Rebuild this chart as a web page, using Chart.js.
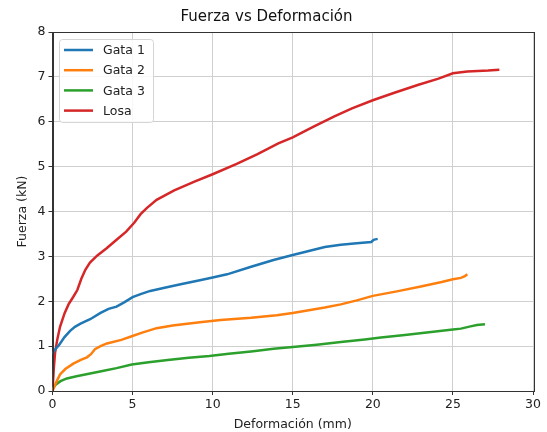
<!DOCTYPE html>
<html>
<head>
<meta charset="utf-8">
<script src="https://cdn.jsdelivr.net/npm/chart.js@4"></script>
<style>
  html, body { margin: 0; padding: 0; background: #fff; }
  #wrap { width: 547px; height: 432px; }
</style>
</head>
<body>
<div id="wrap"><canvas id="chart" width="547" height="432"></canvas></div>
<script>
// values
const gata1X = [0, 0.1, 0.25, 0.4, 0.75, 1.1, 1.4, 1.75, 2.35, 3.0, 3.5, 4.0, 4.5, 5.0, 5.5, 6.1, 7.0, 8.0, 9.2, 10.0, 10.9, 12.4, 13.8, 15.0, 16.0, 17.0, 18.0, 19.0, 19.9, 20.05, 20.3];
const gata1Y = [0.82, 0.9, 0.96, 1.02, 1.2, 1.34, 1.43, 1.5, 1.6, 1.74, 1.83, 1.88, 1.98, 2.09, 2.16, 2.23, 2.3, 2.38, 2.47, 2.53, 2.6, 2.77, 2.92, 3.03, 3.12, 3.21, 3.26, 3.29, 3.32, 3.37, 3.39];

const gata2X = [0, 0.2, 0.47, 0.8, 1.3, 1.8, 2.15, 2.4, 2.65, 3.0, 3.4, 4.3, 4.95, 5.6, 6.5, 7.5, 9.2, 10.5, 12.4, 14.0, 15.0, 16.0, 17.0, 18.0, 19.0, 20.0, 21.5, 23.0, 24.3, 25.0, 25.5, 25.75, 25.9];
const gata2Y = [0, 0.17, 0.37, 0.49, 0.61, 0.7, 0.75, 0.82, 0.93, 1.0, 1.06, 1.14, 1.22, 1.3, 1.4, 1.46, 1.53, 1.58, 1.63, 1.69, 1.74, 1.8, 1.86, 1.93, 2.02, 2.12, 2.22, 2.33, 2.43, 2.49, 2.52, 2.56, 2.6];

const gata3X = [0, 0.2, 0.5, 0.9, 1.5, 2.35, 3.2, 4.0, 4.95, 6.0, 7.2, 8.5, 9.8, 11.0, 12.4, 13.8, 15.0, 16.5, 18.0, 19.5, 20.5, 22.0, 23.5, 25.0, 25.5, 26.1, 26.5, 27.0];
const gata3Y = [0.05, 0.14, 0.22, 0.28, 0.33, 0.39, 0.45, 0.51, 0.59, 0.64, 0.69, 0.74, 0.78, 0.83, 0.88, 0.94, 0.98, 1.03, 1.09, 1.15, 1.19, 1.25, 1.31, 1.37, 1.39, 1.44, 1.47, 1.49];

const losaX = [0, 0.08, 0.16, 0.3, 0.47, 0.75, 1.0, 1.3, 1.55, 1.8, 2.05, 2.34, 2.8, 3.38, 4.0, 4.6, 5.1, 5.5, 5.9, 6.5, 7.6, 8.9, 10.0, 11.5, 12.8, 14.1, 15.0, 16.3, 17.6, 18.7, 20.0, 21.3, 22.8, 24.1, 25.0, 25.9, 27.2, 27.9];
const losaY = [0, 0.5, 0.85, 1.15, 1.43, 1.73, 1.93, 2.1, 2.25, 2.5, 2.7, 2.86, 3.02, 3.18, 3.37, 3.55, 3.75, 3.94, 4.08, 4.26, 4.47, 4.67, 4.83, 5.06, 5.28, 5.52, 5.65, 5.89, 6.12, 6.3, 6.48, 6.64, 6.82, 6.96, 7.08, 7.12, 7.14, 7.16];

const seriesNames = ['Gata 1', 'Gata 2', 'Gata 3', 'Losa'];
const seriesColors = ['#1f77b4', '#ff7f0e', '#2ca02c', '#d62728'];
const xTicks = [0, 5, 10, 15, 20, 25, 30];
const yTicks = [0, 1, 2, 3, 4, 5, 6, 7, 8];

const FONT = 'DejaVu Sans, Verdana, sans-serif';

function pts(xs, ys) {
  return xs.map((x, i) => ({ x, y: ys[i] }));
}

const allSeries = [[gata1X, gata1Y], [gata2X, gata2Y], [gata3X, gata3Y], [losaX, losaY]];

// frame on all four sides + legend box inside the plot (matplotlib style)
const framePlugin = {
  id: 'frameLegend',
  afterDraw(chart) {
    const { ctx, chartArea: a } = chart;
    ctx.save();
    ctx.strokeStyle = '#333';
    ctx.lineWidth = 1;
    ctx.strokeRect(Math.round(a.left) + 0.5, Math.round(a.top) + 0.5,
      Math.round(a.right - a.left), Math.round(a.bottom - a.top));

    // legend
    const bx = 59, by = 39, bw = 94, bh = 83;
    ctx.beginPath();
    ctx.roundRect(bx + 0.5, by + 0.5, bw, bh, 3);
    ctx.fillStyle = 'rgba(255,255,255,0.85)';
    ctx.fill();
    ctx.strokeStyle = '#d5d5d5';
    ctx.stroke();
    ctx.font = '12.5px ' + FONT;
    ctx.textBaseline = 'middle';
    chart.data.datasets.forEach((ds, i) => {
      const y = 50 + i * 20.2;
      ctx.strokeStyle = ds.borderColor;
      ctx.lineWidth = 2.5;
      ctx.beginPath();
      ctx.moveTo(64, y);
      ctx.lineTo(93, y);
      ctx.stroke();
      ctx.fillStyle = '#222';
      ctx.fillText(ds.label, 103, y + 1);
    });
    ctx.restore();
  }
};

new Chart(document.getElementById('chart'), {
  type: 'scatter',
  data: {
    datasets: allSeries.map(([xs, ys], i) => ({
      label: seriesNames[i],
      data: pts(xs, ys),
      showLine: true,
      borderColor: seriesColors[i],
      backgroundColor: seriesColors[i],
      borderWidth: 2.5,
      pointRadius: 0,
      tension: 0,
    }))
  },
  options: {
    responsive: false,
    animation: false,
    layout: { padding: { left: 0, right: 14, top: 0, bottom: 0 } },
    plugins: {
      legend: { display: false },
      tooltip: { enabled: false },
      title: {
        display: true,
        text: 'Fuerza vs Deformación',
        color: '#111',
        font: { family: FONT, size: 15, weight: 'normal' },
        padding: { top: 8, bottom: 6 },
      },
    },
    scales: {
      x: {
        type: 'linear', min: 0, max: 30,
        afterBuildTicks: s => { s.ticks = xTicks.map(v => ({ value: v })); },
        afterFit: s => { s.height = 41; },
        grid: { color: '#cfcfcf', lineWidth: 1, tickColor: '#333', tickLength: 4 },
        border: { display: true, color: '#333', width: 1 },
        ticks: { color: '#222', font: { family: FONT, size: 12.5 }, padding: 2, maxRotation: 0 },
        title: { display: true, text: 'Deformación (mm)', color: '#222', font: { family: FONT, size: 12.5 }, padding: { top: 0, bottom: 0 } },
      },
      y: {
        type: 'linear', min: 0, max: 8,
        afterBuildTicks: s => { s.ticks = yTicks.map(v => ({ value: v })); },
        afterFit: s => { s.width = 52.5; },
        grid: { color: '#cfcfcf', lineWidth: 1, tickColor: '#333', tickLength: 4 },
        border: { display: true, color: '#333', width: 1 },
        ticks: { color: '#222', font: { family: FONT, size: 12.5 }, padding: 3 },
        title: { display: true, text: 'Fuerza (kN)', color: '#222', font: { family: FONT, size: 12.5 }, padding: { top: 15, bottom: 4 } },
      },
    },
  },
  plugins: [framePlugin],
});
</script>
</body>
</html>
